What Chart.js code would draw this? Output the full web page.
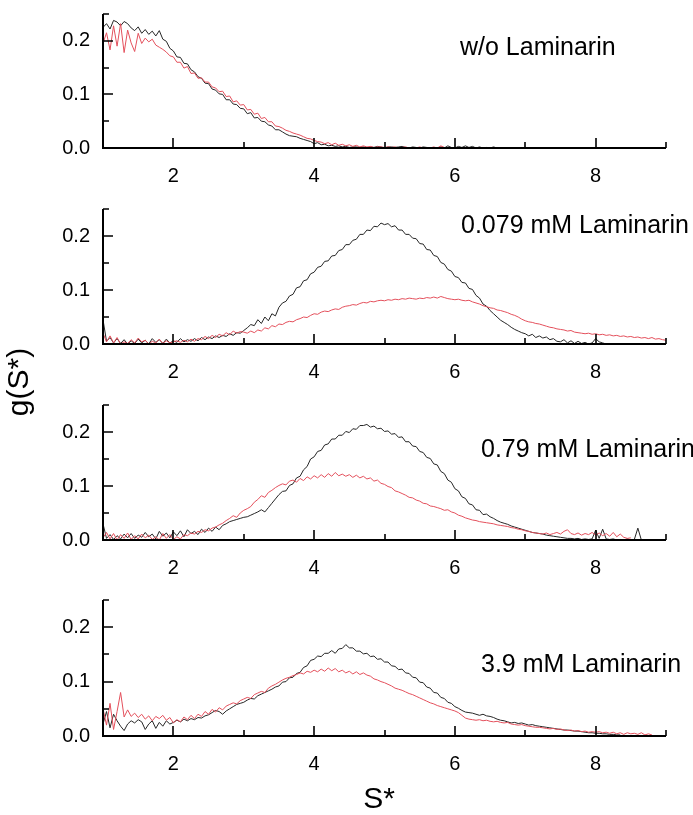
<!DOCTYPE html>
<html>
<head>
<meta charset="utf-8">
<script src="https://cdn.jsdelivr.net/npm/chart.js@4.4.1/dist/chart.umd.min.js"></script>
<style>
  html, body { margin: 0; padding: 0; background: #fff; overflow: hidden; }
  body { width: 693px; height: 815px; position: relative; }
  canvas { position: absolute; left: 0; }
</style>
</head>
<body>
<canvas id="page" width="693" height="815" style="top:0"></canvas>
<canvas id="p0"></canvas>
<canvas id="p1"></canvas>
<canvas id="p2"></canvas>
<canvas id="p3"></canvas>
<script>
// g(S*) sampled every 0.05 S*, starting at S* = 1.0
const S_START = 1.0;
const S_STEP = 0.05;

// w/o Laminarin
const woBlack = [
  0.225,0.232,0.222,0.238,0.235,0.228,0.236,0.232,0.224,0.219,
  0.226,0.214,0.221,0.212,0.218,0.209,0.219,0.203,0.199,0.186,
  0.181,0.170,0.169,0.158,0.157,0.146,0.142,0.133,0.130,0.121,
  0.120,0.110,0.108,0.101,0.100,0.090,0.090,0.082,0.081,0.074,
  0.073,0.064,0.066,0.056,0.057,0.050,0.049,0.043,0.041,0.034,
  0.034,0.030,0.026,0.023,0.022,0.021,0.018,0.016,0.014,0.012,
  0.008,0.010,0.006,0.007,0.004,0.005,0.003,0.004,0.002,0.003,
  0.001,0.002,0.002,0.001,0.002,0.000,0.002,0.001,0.003,0.002,
  0.000,0.002,0.002,0.001,0.002,0.003,0.001,0.000,0.002,0.001,
  0.000,0.002,0.001,0.000,0.001,0.000,0.002,0.000,0.004,0.001,
  0.000,0.003,0.001,0.004,0.001,0.003,0.000,0.002,0.000,0.001,
  0.000,0.002,0.000
];
const woRed = [
  0.195,0.215,0.183,0.228,0.190,0.232,0.178,0.220,0.196,0.180,
  0.214,0.195,0.205,0.198,0.203,0.192,0.188,0.184,0.179,0.172,
  0.170,0.160,0.160,0.149,0.152,0.139,0.140,0.130,0.131,0.123,
  0.123,0.114,0.112,0.105,0.106,0.096,0.097,0.086,0.088,0.080,
  0.081,0.071,0.072,0.063,0.065,0.055,0.057,0.049,0.049,0.041,
  0.040,0.037,0.033,0.031,0.028,0.026,0.024,0.021,0.018,0.017,
  0.014,0.012,0.011,0.008,0.010,0.006,0.009,0.005,0.007,0.004,
  0.006,0.003,0.005,0.002,0.004,0.002,0.003,0.001,0.002,0.002,
  0.001,0.002,0.001,0.002,0.000,0.001,0.002,0.000,0.001,0.000,
  0.002,0.000,0.001,0.000,0.002,0.000,0.004,0.001,0.000
];

// 0.079 mM Laminarin
const lam0079Black = [
  0.045,0.005,0.012,0.002,0.010,0.001,0.008,0.000,0.006,0.001,
  0.009,0.002,0.007,0.000,0.010,0.003,0.008,0.001,0.009,0.002,
  0.006,0.003,0.010,0.004,0.008,0.005,0.010,0.006,0.012,0.008,
  0.013,0.010,0.015,0.012,0.016,0.014,0.019,0.016,0.021,0.020,
  0.025,0.030,0.036,0.034,0.045,0.038,0.050,0.043,0.056,0.052,
  0.068,0.076,0.079,0.089,0.092,0.104,0.106,0.117,0.119,0.130,
  0.133,0.142,0.144,0.153,0.154,0.163,0.164,0.173,0.175,0.184,
  0.184,0.192,0.194,0.203,0.203,0.211,0.210,0.218,0.217,0.224,
  0.221,0.223,0.217,0.219,0.211,0.211,0.203,0.203,0.196,0.195,
  0.186,0.185,0.175,0.174,0.164,0.162,0.151,0.148,0.138,0.135,
  0.125,0.123,0.114,0.113,0.103,0.101,0.090,0.085,0.074,0.070,
  0.062,0.056,0.050,0.044,0.040,0.036,0.031,0.027,0.024,0.021,
  0.019,0.015,0.018,0.012,0.015,0.011,0.013,0.008,0.010,0.005,
  0.004,0.008,0.002,0.006,0.001,0.005,0.001,0.003,0.000,0.002,
  0.010,0.004,0.002,0.000,0.001
];
const lam0079Red = [
  0.020,0.004,0.015,0.002,0.012,0.000,0.004,0.001,0.008,0.002,
  0.011,0.004,0.007,0.000,0.005,0.002,0.009,0.001,0.006,0.002,
  0.004,0.006,0.003,0.007,0.004,0.009,0.005,0.010,0.008,0.014,
  0.010,0.016,0.012,0.018,0.015,0.021,0.017,0.024,0.020,0.023,
  0.022,0.020,0.024,0.021,0.026,0.024,0.030,0.028,0.034,0.032,
  0.037,0.036,0.040,0.042,0.041,0.045,0.047,0.050,0.049,0.053,
  0.056,0.055,0.059,0.061,0.060,0.063,0.065,0.064,0.068,0.070,
  0.071,0.073,0.072,0.075,0.077,0.076,0.079,0.078,0.080,0.081,
  0.080,0.082,0.081,0.083,0.082,0.084,0.083,0.085,0.084,0.083,
  0.085,0.084,0.086,0.085,0.087,0.085,0.088,0.086,0.084,0.083,
  0.082,0.083,0.081,0.080,0.081,0.078,0.076,0.074,0.071,0.069,
  0.067,0.066,0.063,0.062,0.060,0.058,0.055,0.053,0.050,0.046,
  0.043,0.041,0.040,0.038,0.037,0.035,0.033,0.031,0.030,0.028,
  0.027,0.026,0.024,0.025,0.022,0.021,0.020,0.019,0.020,0.018,
  0.019,0.017,0.018,0.016,0.017,0.015,0.016,0.014,0.015,0.013,
  0.014,0.012,0.013,0.011,0.012,0.010,0.012,0.009,0.010,0.008,
  0.007
];

// 0.79 mM Laminarin
const lam079Black = [
  0.030,0.003,0.010,0.001,0.008,0.002,0.011,0.004,0.012,0.003,
  0.009,0.005,0.014,0.006,0.011,0.002,0.016,0.007,0.013,0.004,
  0.015,0.008,0.017,0.006,0.019,0.012,0.016,0.010,0.020,0.014,
  0.022,0.016,0.024,0.019,0.027,0.030,0.034,0.036,0.038,0.040,
  0.042,0.043,0.046,0.049,0.052,0.056,0.052,0.060,0.068,0.076,
  0.084,0.090,0.091,0.101,0.104,0.115,0.118,0.130,0.136,0.150,
  0.154,0.164,0.166,0.176,0.178,0.187,0.187,0.194,0.194,0.201,
  0.199,0.206,0.205,0.212,0.212,0.214,0.209,0.211,0.206,0.207,
  0.201,0.202,0.196,0.197,0.190,0.191,0.182,0.182,0.174,0.173,
  0.164,0.162,0.153,0.151,0.141,0.139,0.127,0.123,0.111,0.107,
  0.095,0.091,0.080,0.077,0.067,0.065,0.056,0.055,0.047,0.048,
  0.043,0.040,0.036,0.033,0.031,0.029,0.026,0.024,0.022,0.020,
  0.018,0.016,0.014,0.013,0.012,0.011,0.009,0.008,0.007,0.006,
  0.005,0.004,0.003,0.003,0.002,0.003,0.001,0.002,0.001,0.002,
  0.018,0.003,0.020,0.002,0.001,0.002,0.000,0.001,0.000,0.002,
  0.000,0.001,0.022,0.000
];
const lam079Red = [
  0.004,0.014,0.002,0.012,0.000,0.010,0.003,0.013,0.001,0.008,
  0.002,0.011,0.004,0.009,0.001,0.006,0.000,0.012,0.003,0.010,
  0.001,0.006,0.002,0.010,0.008,0.013,0.011,0.016,0.014,0.019,
  0.017,0.022,0.024,0.028,0.031,0.036,0.040,0.045,0.042,0.050,
  0.055,0.058,0.062,0.070,0.075,0.082,0.079,0.088,0.092,0.097,
  0.101,0.104,0.102,0.109,0.111,0.107,0.114,0.110,0.117,0.113,
  0.119,0.115,0.121,0.116,0.123,0.118,0.125,0.119,0.122,0.118,
  0.121,0.116,0.120,0.115,0.118,0.113,0.115,0.109,0.111,0.105,
  0.103,0.099,0.097,0.091,0.089,0.086,0.083,0.079,0.078,0.074,
  0.072,0.068,0.067,0.063,0.062,0.060,0.058,0.055,0.056,0.052,
  0.050,0.046,0.044,0.041,0.039,0.037,0.036,0.034,0.033,0.032,
  0.031,0.030,0.028,0.027,0.026,0.025,0.023,0.022,0.020,0.019,
  0.017,0.016,0.014,0.013,0.012,0.011,0.013,0.010,0.012,0.014,
  0.011,0.016,0.019,0.012,0.010,0.013,0.009,0.012,0.010,0.014,
  0.009,0.013,0.008,0.012,0.007,0.014,0.006,0.011,0.005,0.003,
  0.004
];

// 3.9 mM Laminarin
const lam39Black = [
  0.022,0.045,0.015,0.040,0.028,0.018,0.010,0.022,0.028,0.024,
  0.030,0.026,0.012,0.022,0.028,0.014,0.025,0.018,0.028,0.022,
  0.025,0.029,0.026,0.031,0.028,0.032,0.030,0.034,0.033,0.037,
  0.039,0.043,0.047,0.045,0.040,0.046,0.050,0.054,0.058,0.060,
  0.062,0.066,0.069,0.068,0.074,0.077,0.080,0.083,0.086,0.090,
  0.092,0.099,0.100,0.107,0.108,0.115,0.117,0.126,0.129,0.139,
  0.141,0.147,0.146,0.152,0.152,0.157,0.152,0.160,0.161,0.168,
  0.162,0.162,0.156,0.156,0.151,0.152,0.146,0.147,0.141,0.142,
  0.136,0.136,0.129,0.128,0.122,0.123,0.116,0.115,0.108,0.107,
  0.099,0.098,0.090,0.088,0.080,0.079,0.071,0.069,0.062,0.060,
  0.054,0.051,0.047,0.044,0.043,0.042,0.040,0.038,0.040,0.037,
  0.036,0.034,0.031,0.029,0.028,0.026,0.024,0.025,0.023,0.024,
  0.022,0.020,0.021,0.019,0.018,0.017,0.016,0.015,0.014,0.013,
  0.012,0.011,0.011,0.010,0.009,0.009,0.008,0.007,0.006,0.006,
  0.005,0.005,0.004,0.004,0.003,0.003,0.002,0.002
];
const lam39Red = [
  0.050,0.020,0.060,0.012,0.045,0.080,0.035,0.048,0.036,0.042,
  0.034,0.040,0.031,0.037,0.028,0.036,0.032,0.038,0.029,0.034,
  0.024,0.030,0.026,0.035,0.030,0.038,0.032,0.040,0.036,0.045,
  0.040,0.049,0.044,0.052,0.048,0.055,0.058,0.061,0.059,0.065,
  0.068,0.071,0.069,0.076,0.079,0.082,0.080,0.088,0.092,0.095,
  0.099,0.103,0.106,0.108,0.111,0.113,0.116,0.114,0.119,0.117,
  0.121,0.118,0.123,0.119,0.125,0.120,0.124,0.118,0.121,0.116,
  0.119,0.114,0.118,0.113,0.116,0.112,0.110,0.105,0.103,0.100,
  0.098,0.095,0.092,0.088,0.086,0.084,0.081,0.078,0.076,0.073,
  0.070,0.067,0.064,0.061,0.059,0.056,0.054,0.052,0.050,0.048,
  0.046,0.043,0.038,0.033,0.031,0.030,0.029,0.030,0.028,0.029,
  0.027,0.026,0.027,0.025,0.024,0.025,0.022,0.021,0.020,0.021,
  0.019,0.018,0.017,0.016,0.016,0.015,0.014,0.013,0.014,0.012,
  0.013,0.011,0.010,0.011,0.009,0.010,0.008,0.009,0.007,0.008,
  0.007,0.008,0.006,0.007,0.005,0.007,0.004,0.006,0.003,0.006,
  0.004,0.005,0.003,0.006,0.002,0.004,0.002
];

const panelLabels = ['w/o Laminarin', '0.079 mM Laminarin', '0.79 mM Laminarin', '3.9 mM Laminarin'];
const xTickLabels = [2, 4, 6, 8];
const yTickLabels = [0.0, 0.1, 0.2];

const FONT = '"Liberation Sans", Arial, sans-serif';
const BLACK = '#262626';
const RED = '#e4505c';

// plot areas on the page (top / bottom of each panel)
const panelTop = [3, 198, 394, 589];
const panelBottom = [148, 344, 540, 736];
const PLOT_LEFT = 103, PLOT_RIGHT = 666;
const PAD_TOP = 14, X_AXIS_H = 45;

function toPoints(arr) {
  return arr.map((v, i) => ({ x: +(S_START + i * S_STEP).toFixed(2), y: v }));
}

// axis lines with inward major / minor ticks
const axisFrame = {
  id: 'axisFrame',
  afterDraw(chart) {
    const { ctx, chartArea: a, scales: { x, y } } = chart;
    ctx.save();
    ctx.strokeStyle = '#000';
    ctx.lineWidth = 2;
    ctx.beginPath();
    ctx.moveTo(a.left, a.top);
    ctx.lineTo(a.left, a.bottom);
    ctx.lineTo(a.right, a.bottom);
    ctx.stroke();
    ctx.lineWidth = 1.6;
    ctx.beginPath();
    y.ticks.forEach(t => {
      if (t.value === 0) return;
      const major = yTickLabels.some(v => Math.abs(v - t.value) < 1e-6);
      const py = Math.round(y.getPixelForValue(t.value));
      ctx.moveTo(a.left, py);
      ctx.lineTo(a.left + (major ? 10 : 6), py);
    });
    x.ticks.forEach(t => {
      if (t.value === 1) return;
      const major = xTickLabels.includes(t.value);
      const px = Math.round(x.getPixelForValue(t.value));
      ctx.moveTo(px, a.bottom);
      ctx.lineTo(px, a.bottom - (major ? 10 : 6));
    });
    ctx.stroke();
    ctx.restore();
  }
};

function makePanel(idx, black, red) {
  const cv = document.getElementById('p' + idx);
  cv.width = 693;
  cv.height = panelBottom[idx] - panelTop[idx] + PAD_TOP + X_AXIS_H;
  cv.style.top = (panelTop[idx] - PAD_TOP) + 'px';

  new Chart(cv, {
    type: 'line',
    data: {
      datasets: [
        { data: toPoints(red), borderColor: RED, borderWidth: 1, pointRadius: 0, tension: 0 },
        { data: toPoints(black), borderColor: BLACK, borderWidth: 1, pointRadius: 0, tension: 0 }
      ]
    },
    options: {
      responsive: false,
      animation: false,
      devicePixelRatio: 1,
      events: [],
      layout: { padding: { top: PAD_TOP, left: 0, right: 693 - PLOT_RIGHT, bottom: 0 } },
      plugins: { legend: { display: false }, tooltip: { enabled: false } },
      scales: {
        x: {
          type: 'linear', min: 1, max: 9,
          afterFit: s => { s.height = X_AXIS_H; },
          grid: { display: false, drawTicks: false },
          border: { display: false },
          ticks: {
            stepSize: 1, autoSkip: false, maxRotation: 0, padding: 16,
            color: '#000', font: { family: FONT, size: 20 },
            callback: v => xTickLabels.includes(v) ? String(v) : ''
          }
        },
        y: {
          type: 'linear', min: 0, max: 0.25,
          afterFit: s => { s.width = PLOT_LEFT; },
          grid: { display: false, drawTicks: false },
          border: { display: false },
          ticks: {
            stepSize: 0.05, autoSkip: false, padding: 13,
            color: '#000', font: { family: FONT, size: 20 },
            callback: v => yTickLabels.some(t => Math.abs(t - v) < 1e-6) ? v.toFixed(1) : ''
          }
        }
      }
    },
    plugins: [axisFrame]
  });
}

makePanel(0, woBlack, woRed);
makePanel(1, lam0079Black, lam0079Red);
makePanel(2, lam079Black, lam079Red);
makePanel(3, lam39Black, lam39Red);

// page text: panel labels and axis titles
const pc = document.getElementById('page').getContext('2d');
pc.fillStyle = '#000';
pc.textBaseline = 'alphabetic';
pc.font = '25px ' + FONT;
const labelPos = [[460, 55], [461, 233], [481, 457], [481, 672]];
panelLabels.forEach((t, i) => pc.fillText(t, labelPos[i][0], labelPos[i][1]));

pc.font = '30px ' + FONT;
pc.textAlign = 'center';
pc.fillText('S*', 379, 808);
pc.save();
pc.translate(28, 382);
pc.rotate(-Math.PI / 2);
pc.fillText('g(S*)', 0, 0);
pc.restore();
</script>
</body>
</html>
